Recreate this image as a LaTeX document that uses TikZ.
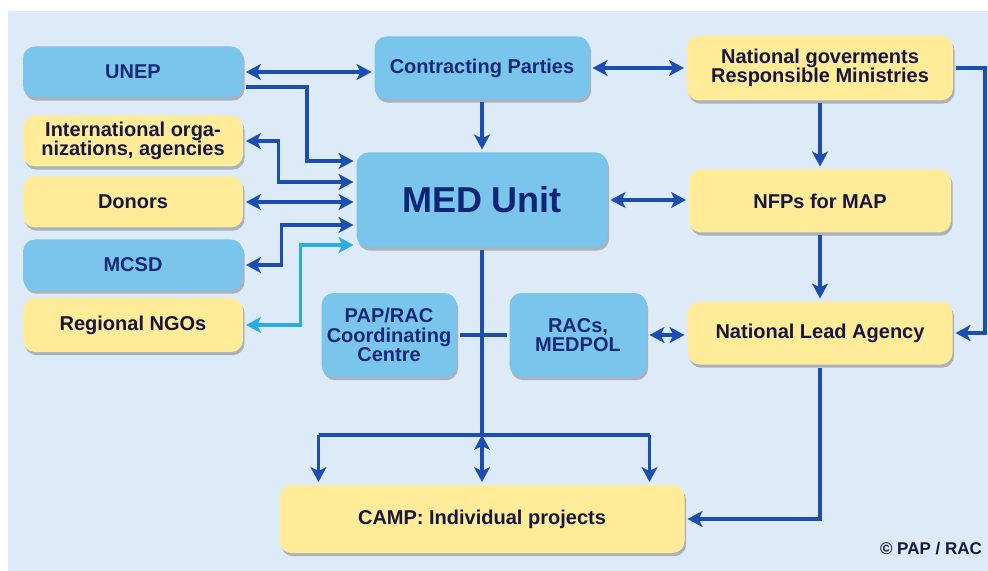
\documentclass[tikz,border=0pt]{standalone}
\usepackage{fontspec}
\setmainfont{Liberation Sans}
\usetikzlibrary{positioning, arrows.meta, calc, shadows}
\definecolor{bgblue}{RGB}{221,234,247}
\definecolor{boxblue}{RGB}{122,197,236}
\definecolor{boxyellow}{RGB}{255,235,152}
\definecolor{linkblue}{RGB}{28,78,178}
\definecolor{ngocyan}{RGB}{40,172,228}
\definecolor{navytext}{RGB}{24,42,118}
\definecolor{medtext}{RGB}{14,36,116}
\definecolor{darktext}{RGB}{22,22,62}

\begin{document}
\begin{tikzpicture}[x=0.5pt, y=-0.5pt, >={Stealth[length=7.5pt, width=8pt, inset=2pt]},
    box/.style={rectangle, rounded corners=6pt, align=center, inner sep=2pt, outer sep=1.5pt,
      font=\bfseries\fontsize{10}{9.8}\selectfont,
      drop shadow={shadow xshift=0.8pt, shadow yshift=-1.6pt, opacity=0.35, fill=black!70}},
    bluebox/.style={box, fill=boxblue, text=navytext},
    yellowbox/.style={box, fill=boxyellow, text=darktext},
    sidebox/.style={minimum width=110pt, minimum height=25.5pt},
    link/.style={draw=linkblue, line width=1.6pt}]
  \useasboundingbox (0,0) rectangle (988,571);
  \fill[bgblue] (8,11) rectangle (988,571);

  \node[bluebox, sidebox]   (unep)   at (133,72)  {UNEP};
  \node[yellowbox, sidebox] (intl)   at (133,141) {International orga-\\nizations, agencies};
  \node[yellowbox, sidebox] (donors) at (133,202) {Donors};
  \node[bluebox, sidebox]   (mcsd)   at (133,265) {MCSD};
  \node[yellowbox, sidebox, minimum height=27pt] (ngos) at (133,325) {Regional NGOs};

  \node[bluebox, minimum width=107.5pt, minimum height=31.5pt] (cp) at (482,68) {Contracting Parties};
  \node[bluebox, minimum width=125.5pt, minimum height=47.5pt,
        font=\bfseries\fontsize{18}{20}\selectfont, text=medtext] (med) at (482,200) {MED Unit};
  \node[yellowbox, minimum width=133pt, minimum height=32.5pt] (natgov) at (820,68)
       {National goverments\\Responsible Ministries};
  \node[yellowbox, minimum width=131pt, minimum height=31.5pt] (nfp) at (820,201) {NFPs for MAP};
  \node[yellowbox, minimum width=132.5pt, minimum height=31.5pt] (nla) at (820,333) {National Lead Agency};
  \node[bluebox, minimum width=67.5pt, minimum height=42pt] (paprac) at (389,335) {PAP/RAC\\Coordinating\\Centre};
  \node[bluebox, minimum width=68.5pt, minimum height=42pt] (racs) at (578,335) {RACs,\\MEDPOL};
  \node[yellowbox, minimum width=202.5pt, minimum height=34pt] (camp) at (482,519) {CAMP: Individual projects};
  \node[font=\bfseries\fontsize{8.5}{10}\selectfont, text=darktext, anchor=east] (copyright) at (989,549) {© PAP / RAC};
  \coordinate (fork) at (482,435);

  \draw[link, <->] (unep.east) -- (unep.east -| cp.west);
  \draw[link, <->] (cp.east) -- (cp.east -| natgov.west);
  \draw[link, ->] (cp) -- (med);
  \draw[link, ->] (natgov) -- (nfp);
  \draw[link, ->] (nfp) -- (nla);
  \draw[link, ->] (natgov.east) -- ++(14.5pt,0) |- (nla.east);
  \draw[link, <->] (med.east) -- (med.east -| nfp.west);
  \draw[link] (paprac.east) -- (racs.west);
  \draw[link, <->] (racs.east) -- (racs.east -| nla.west);
  \draw[link, ->] (nla.south) |- (camp.east);

  \draw[link, ->] ([yshift=-7.5pt]unep.east) -- ++(30.5pt,0) |- ([yshift=19.5pt]med.west);
  \draw[link, <->] ([yshift=9pt]med.west) -- ++(-37.5pt,0) |- (intl.east);
  \draw[link, <->] (donors.east) -- (donors.east -| med.west);
  \draw[link, <->] ([yshift=-12.5pt]med.west) -- ++(-36pt,0) |- (mcsd.east);
  \draw[link, draw=ngocyan, <->] ([yshift=-22.5pt]med.west) -- ++(-26.5pt,0) |- (ngos.east);

  \draw[link] (med) -- (fork);
  \draw[link] (fork -| paprac.west) -- (fork -| racs.east);
  \draw[link, ->] (fork -| paprac.west) -- (paprac.west |- camp.north);
  \draw[link, ->] (fork -| racs.east) -- (racs.east |- camp.north);
  \draw[link, <->] (fork) -- (fork |- camp.north);
\end{tikzpicture}
\end{document}
